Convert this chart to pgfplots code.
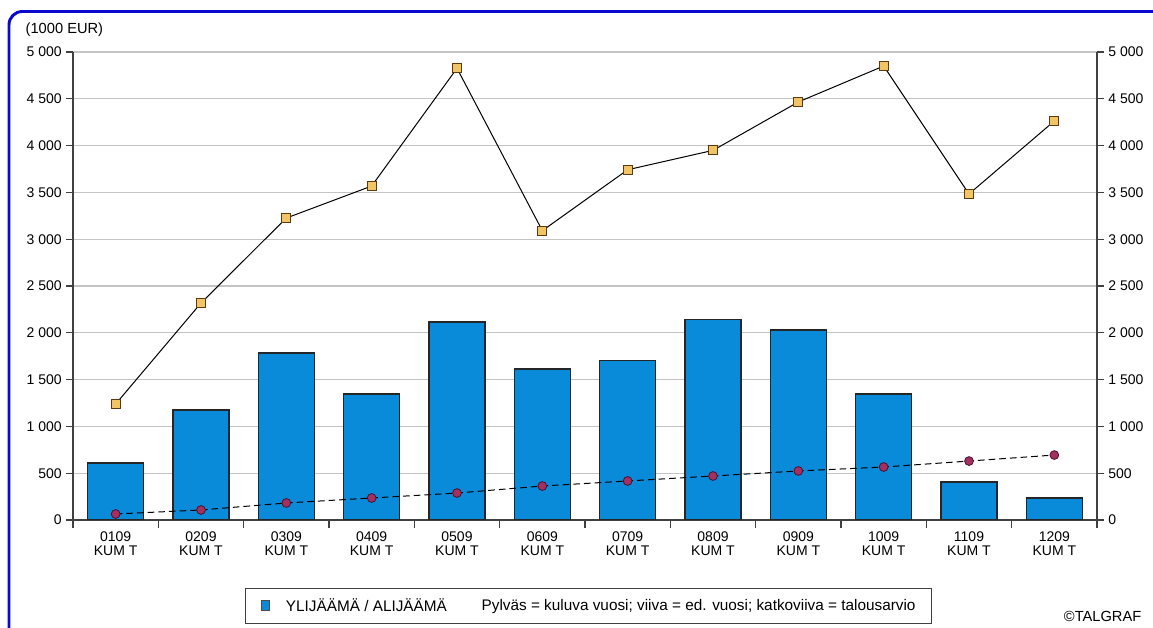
\documentclass[border=0pt]{standalone}
\usepackage{pgfplots}
\pgfplotsset{compat=1.18}
\usepackage{fontspec}
\setmainfont{Liberation Sans}

\definecolor{barblue}{HTML}{0A8BD9}
\definecolor{sqfill}{HTML}{F2C465}
\definecolor{sqedge}{HTML}{5A3A10}
\definecolor{dotfill}{HTML}{A3305E}
\definecolor{dotedge}{HTML}{4A1030}
\definecolor{frameblue}{HTML}{0A0ACF}
\definecolor{axisgray}{HTML}{404040}
\definecolor{gridgray}{HTML}{C4C4C4}

\pgfplotsset{
  talgraf/.style={
    at={(54.75pt,81pt)}, anchor=south west,
    scale only axis, width=768pt, height=351pt,
    xmin=-0.5, xmax=11.5, ymin=0, ymax=5000,
    ytick={0,500,...,5000},
    tick align=outside,
    major tick length=5pt,
    tick style={axisgray, line width=0.9pt},
    axis line style={axisgray, line width=1pt},
    tick label style={font=\fontsize{10.5}{12}\selectfont},
    /pgf/number format/.cd, 1000 sep={\ }, assume math mode=true,
  },
}

\begin{document}
\begin{tikzpicture}[x=0.75pt, y=0.75pt]
\path[use as bounding box] (0,0) rectangle (1153,628);
\draw[frameblue, line width=2.2pt, rounded corners=10pt] (9,-20) -- (9,616.5) -- (1175,616.5);

\begin{axis}[
  talgraf,
  axis x line*=bottom, axis y line*=left,
  ymajorgrids, grid style={gridgray, line width=0.8pt},
  xtick={0,...,11},
  xticklabels={0109\\KUM T,0209\\KUM T,0309\\KUM T,0409\\KUM T,0509\\KUM T,0609\\KUM T,
               0709\\KUM T,0809\\KUM T,0909\\KUM T,1009\\KUM T,1109\\KUM T,1209\\KUM T},
  xticklabel style={align=center, font=\fontsize{10.5}{11}\selectfont},
  major x tick style={draw=none},
  minor xtick={-0.5,0.5,...,11.5},
  minor tick length=6pt,
  legend style={at={(0.168,-0.145)}, anchor=north west,
    draw=axisgray, line width=0.8pt, inner xsep=10pt, inner ysep=5.5pt,
    font=\fontsize{11.5}{13}\selectfont, legend columns=2,
    /tikz/every even column/.append style={column sep=22pt}},
  legend cell align=left,
]
\addplot[ybar, bar width=42pt, fill=barblue, draw=black!85, line width=0.8pt,
  legend image code/.code={%
    \path[draw=none, fill=none] (0pt,0pt) -- (18.25pt,0pt);
    \fill[barblue, draw=black!70, line width=0.5pt] (2pt,-3.75pt) rectangle (8pt,3.75pt);}]
  coordinates {(0,609) (1,1175) (2,1784) (3,1346) (4,2115) (5,1613)
               (6,1709) (7,2147) (8,2030) (9,1346) (10,406) (11,235)};
\addlegendentry{YLIJÄÄMÄ / ALIJÄÄMÄ}
\addplot[forget plot, black, line width=0.75pt, mark=square*,
  mark options={fill=sqfill, draw=sqedge, line width=0.75pt, solid}, mark size=3.4pt]
  coordinates {(0,1239) (1,2318) (2,3226) (3,3568) (4,4826) (5,3091)
               (6,3742) (7,3949) (8,4466) (9,4850) (10,3483) (11,4263)};
\addplot[forget plot, black, line width=0.75pt, dash pattern=on 5pt off 3pt, mark=*,
  mark options={fill=dotfill, draw=dotedge, line width=0.6pt, solid}, mark size=3.3pt]
  coordinates {(0,64) (1,107) (2,182) (3,235) (4,288) (5,363)
               (6,417) (7,470) (8,524) (9,566) (10,630) (11,694)};
\addlegendimage{empty legend}
\addlegendentry{Pylväs = kuluva vuosi; viiva = ed. vuosi; katkoviiva = talousarvio}
\end{axis}

\begin{axis}[
  talgraf,
  axis x line=none, axis y line*=right,
]
\end{axis}

\node[anchor=west, font=\fontsize{11}{12}\selectfont] at (21,598) {(1000 EUR)};
\node[anchor=east, font=\fontsize{11}{12}\selectfont] at (1146,12) {©TALGRAF};
\end{tikzpicture}
\end{document}
